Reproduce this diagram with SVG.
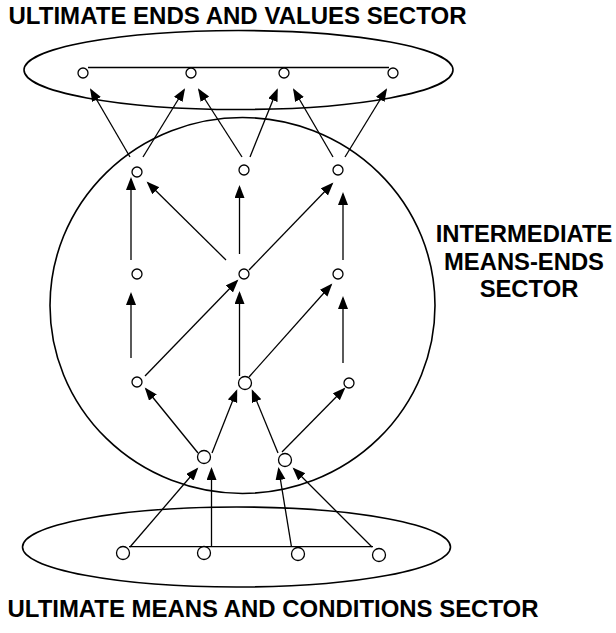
<svg xmlns="http://www.w3.org/2000/svg" width="616" height="633" viewBox="0 0 616 633">
<style>
.t{font-family:"Liberation Sans",Arial,sans-serif;font-weight:bold;font-size:23.8px;fill:#000}
.sec{fill:none;stroke:#000;stroke-width:1.6}
.n{fill:#fff;stroke:#000;stroke-width:1.3}
.c{stroke:#000;stroke-width:1.3;fill:none}
.a{stroke:#000;stroke-width:1.3;fill:none;marker-end:url(#ah)}
</style>
<defs>
<marker id="ah" markerUnits="userSpaceOnUse" markerWidth="14" markerHeight="12" viewBox="0 0 14 12" refX="11" refY="5" orient="auto">
<path d="M0,0 L13,5 L0,10 Z" fill="#000"/>
</marker>
</defs>
<text class="t" x="8.5" y="24" textLength="458" lengthAdjust="spacingAndGlyphs">ULTIMATE ENDS AND VALUES SECTOR</text>
<text class="t" x="7.5" y="617" textLength="531" lengthAdjust="spacingAndGlyphs">ULTIMATE MEANS AND CONDITIONS SECTOR</text>
<g id="label-intermediate">
<text class="t" x="524" y="242" text-anchor="middle">INTERMEDIATE</text>
<text class="t" x="524" y="270" text-anchor="middle">MEANS-ENDS</text>
<text class="t" x="529" y="297" text-anchor="middle">SECTOR</text>
</g>
<g id="sectors">
<ellipse id="ends-sector" class="sec" cx="238.5" cy="70" rx="214.5" ry="39.5"/>
<ellipse id="intermediate-sector" class="sec" cx="242.5" cy="305.5" rx="192.5" ry="188"/>
<ellipse id="means-sector" class="sec" cx="236.5" cy="547" rx="214" ry="40"/>
</g>
<g id="connectors">
<line class="c" x1="88" y1="67.5" x2="389" y2="67.5"/>
<line class="c" x1="129" y1="546.7" x2="373" y2="546.7"/>
<line class="a" x1="130" y1="157" x2="91" y2="90"/>
<line class="a" x1="143" y1="157" x2="184" y2="90"/>
<line class="a" x1="242" y1="157" x2="199" y2="90"/>
<line class="a" x1="250" y1="157" x2="277" y2="90"/>
<line class="a" x1="333" y1="157" x2="294" y2="90"/>
<line class="a" x1="345" y1="157" x2="386" y2="90"/>
<line class="a" x1="131" y1="260" x2="131" y2="179"/>
<line class="a" x1="226" y1="260" x2="148" y2="183"/>
<line class="a" x1="239.5" y1="254" x2="239.5" y2="187"/>
<line class="a" x1="249" y1="270" x2="332" y2="184"/>
<line class="a" x1="343" y1="260" x2="343" y2="194"/>
<line class="a" x1="131" y1="358" x2="131" y2="294"/>
<line class="a" x1="145" y1="376" x2="237" y2="281"/>
<line class="a" x1="239.5" y1="376" x2="239.5" y2="293"/>
<line class="a" x1="249" y1="377" x2="331" y2="285"/>
<line class="a" x1="343" y1="363" x2="343" y2="298"/>
<line class="a" x1="198" y1="453" x2="146" y2="389"/>
<line class="a" x1="212" y1="453" x2="236.5" y2="391"/>
<line class="a" x1="278" y1="453" x2="252.5" y2="391"/>
<line class="a" x1="282" y1="452" x2="344" y2="389"/>
<line class="a" x1="130" y1="547" x2="197" y2="469"/>
<line class="a" x1="211.5" y1="547" x2="211.5" y2="469"/>
<line class="a" x1="291.5" y1="547" x2="278.7" y2="469"/>
<line class="a" x1="372" y1="547" x2="294" y2="469"/>
</g>
<g id="node-e1"><circle class="n" cx="83" cy="73" r="5"/></g>
<g id="node-e2"><circle class="n" cx="191" cy="73" r="5"/></g>
<g id="node-e3"><circle class="n" cx="284" cy="73" r="5"/></g>
<g id="node-e4"><circle class="n" cx="393" cy="73" r="5"/></g>
<g id="node-r1a"><circle class="n" cx="137" cy="172" r="5"/></g>
<g id="node-r1b"><circle class="n" cx="244" cy="170" r="5"/></g>
<g id="node-r1c"><circle class="n" cx="338" cy="170" r="5"/></g>
<g id="node-r2a"><circle class="n" cx="137" cy="274" r="5"/></g>
<g id="node-r2b"><circle class="n" cx="244" cy="274" r="5"/></g>
<g id="node-r2c"><circle class="n" cx="338" cy="274" r="5"/></g>
<g id="node-r3a"><circle class="n" cx="137" cy="382" r="5"/></g>
<g id="node-r3b"><circle class="n" cx="245" cy="383" r="6.5"/></g>
<g id="node-r3c"><circle class="n" cx="349" cy="383" r="5"/></g>
<g id="node-r4a"><circle class="n" cx="204" cy="457" r="6.5"/></g>
<g id="node-r4b"><circle class="n" cx="285" cy="460" r="6.5"/></g>
<g id="node-m1"><circle class="n" cx="123" cy="553" r="6.5"/></g>
<g id="node-m2"><circle class="n" cx="204" cy="553" r="6.5"/></g>
<g id="node-m3"><circle class="n" cx="298" cy="554" r="6.5"/></g>
<g id="node-m4"><circle class="n" cx="379" cy="555" r="6.5"/></g>
</svg>
